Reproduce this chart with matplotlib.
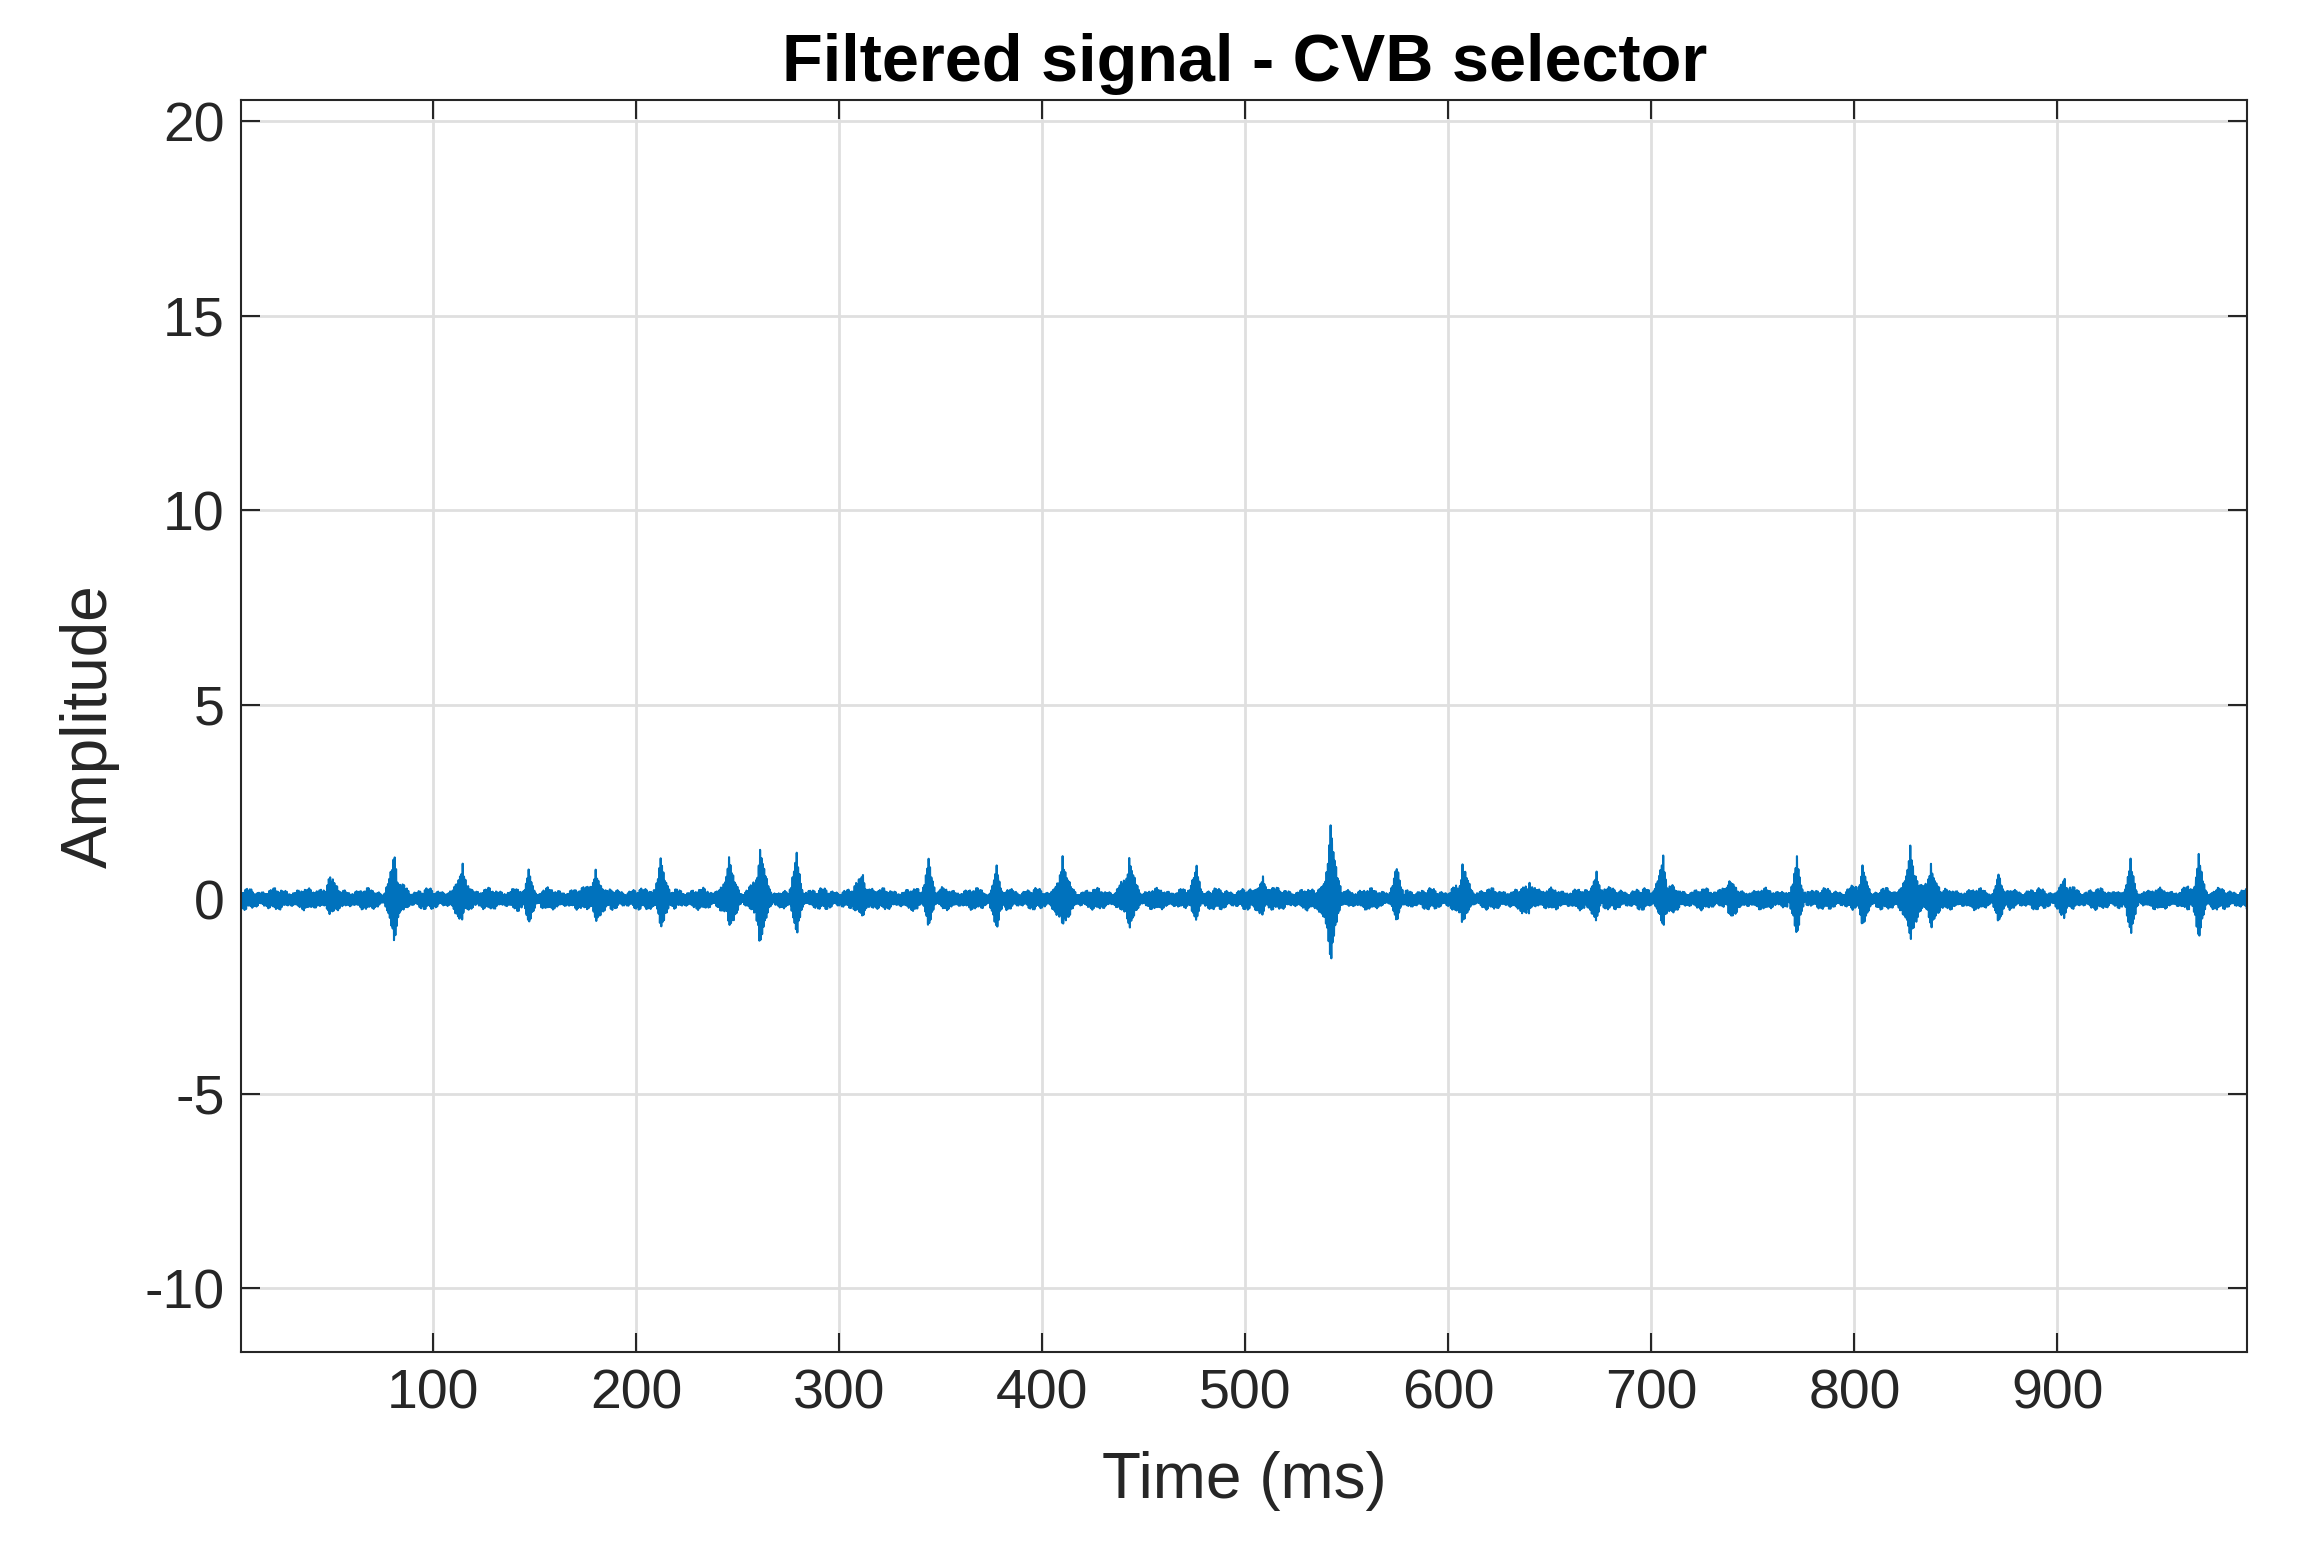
import numpy as np
from matplotlib import pyplot as plt

plt.rcParams['font.family'] = ['Liberation Sans', 'DejaVu Sans']
plt.rcParams['axes.unicode_minus'] = False

# spike events: time (ms), peak up, peak down
spike_t = [48.6, 81, 114.5, 147, 180, 212, 245.7, 261, 279, 311.6, 344, 377.5,
           410, 442.8, 476, 508.7, 542, 574.6, 607, 640, 673, 705.8, 738.4,
           771.7, 804, 827.5, 837.7, 871, 903.6, 936, 969.6]
spike_up = [0.6, 1.2, 0.9, 0.7, 0.8, 1.0, 1.1, 1.4, 1.0, 0.7, 0.9, 0.8,
            1.1, 1.2, 0.7, 0.6, 1.9, 0.6, 0.9, 0.5, 0.7, 1.1, 0.6,
            1.0, 0.9, 1.4, 1.0, 0.6, 0.6, 0.9, 1.1]
spike_dn = [-0.4, -1.1, -0.6, -0.5, -0.6, -0.7, -0.8, -1.2, -0.8, -0.5, -0.7, -0.6,
            -0.9, -0.8, -0.5, -0.4, -1.8, -0.5, -0.7, -0.4, -0.5, -0.8, -0.4,
            -0.7, -0.6, -1.3, -0.8, -0.4, -0.4, -0.7, -0.9]
baseline_amp = 0.3

t = np.linspace(5.5, 993.5, 40000)
# deterministic background ripple
y = baseline_amp * (0.5 * np.sin(2 * np.pi * t * 1.37) + 0.3 * np.sin(2 * np.pi * t * 2.91 + 1.0)
                    + 0.2 * np.sin(2 * np.pi * t * 5.3 + 2.0)) * (0.6 + 0.4 * np.sin(t * 0.21) ** 2)
for ts, up, dn in zip(spike_t, spike_up, spike_dn):
    d = t - ts
    env = np.exp(-np.abs(d) / 2.2)
    osc = np.cos(2 * np.pi * d * 1.5)
    y += np.where(osc > 0, up, -dn) * env * osc

fig = plt.figure(figsize=(22.99, 15.45), dpi=100)
ax = fig.add_axes([0.105, 0.125, 0.8725, 0.81])
ax.plot(t, y, color='#0072BD', lw=1.5)
ax.set_xlim(5.5, 993.5)
ax.set_ylim(-11.64, 20.53)
ax.set_xticks(range(100, 1000, 100))
ax.set_yticks(range(-10, 21, 5))
ax.grid(True, color='#DFDFDF', lw=2)
ax.set_axisbelow(True)
ax.tick_params(direction='in', length=14, width=1.5, labelsize=40, top=True, right=True,
               colors='#262626', pad=12)
for s in ax.spines.values():
    s.set_linewidth(1.5)
    s.set_color('#262626')
ax.set_xlabel('Time (ms)', fontsize=46, color='#262626', labelpad=22)
ax.set_ylabel('Amplitude', fontsize=46, color='#262626', labelpad=18)
ax.set_title('Filtered signal - CVB selector', fontsize=48, fontweight='bold', pad=14)
fig.savefig('out.png')
